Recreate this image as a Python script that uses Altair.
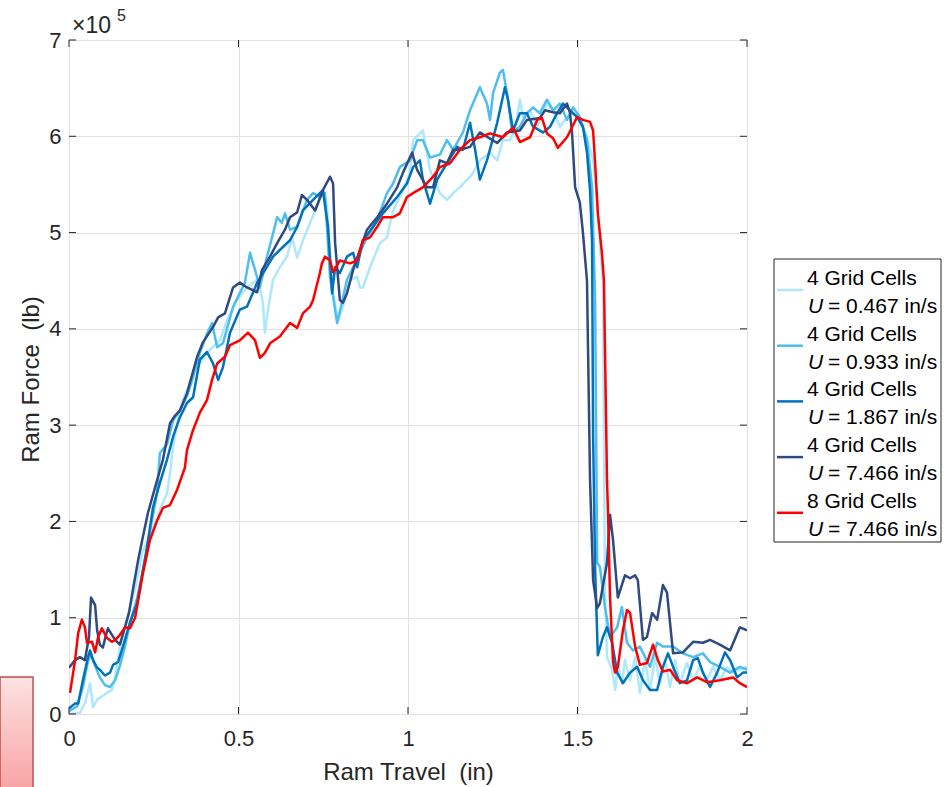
import altair as alt
import pandas as pd

# Ram force (in units of 10^5 lb) against ram travel (in) for five runs

travel_u0467 = [0.000, 0.032, 0.047, 0.062, 0.071, 0.083, 0.112, 0.127, 0.136, 0.150,
                0.171, 0.195, 0.218, 0.239, 0.268, 0.289, 0.298, 0.307, 0.319, 0.336,
                0.357, 0.366, 0.407, 0.445, 0.466, 0.496, 0.525, 0.555, 0.563, 0.572,
                0.578, 0.587, 0.602, 0.622, 0.643, 0.658, 0.673, 0.690, 0.711, 0.732,
                0.749, 0.761, 0.779, 0.794, 0.808, 0.829, 0.850, 0.858, 0.867, 0.888,
                0.917, 0.938, 0.956, 0.985, 1.006, 1.015, 1.044, 1.065, 1.094, 1.115,
                1.133, 1.153, 1.183, 1.192, 1.212, 1.242, 1.263, 1.280, 1.301, 1.310,
                1.322, 1.330, 1.339, 1.360, 1.381, 1.410, 1.428, 1.448, 1.469, 1.487,
                1.507, 1.528, 1.546, 1.558, 1.566, 1.575, 1.581, 1.587, 1.602, 1.611,
                1.619, 1.631, 1.640, 1.655, 1.670, 1.684, 1.699, 1.714, 1.729, 1.743,
                1.758, 1.773, 1.788, 1.802, 1.823, 1.841, 1.861, 1.882, 1.900, 1.920,
                1.941, 1.959, 1.979, 2.000]
force_u0467 = [0.00, 0.01, 0.11, 0.32, 0.07, 0.15, 0.22, 0.25, 0.38, 0.70,
               1.00, 1.30, 1.70, 1.84, 2.12, 2.29, 2.50, 2.77, 3.02, 3.26,
               3.44, 3.54, 3.75, 3.88, 4.09, 4.30, 4.43, 4.51, 4.43, 4.27,
               3.96, 4.20, 4.51, 4.64, 4.75, 4.95, 4.74, 4.92, 5.10, 5.27,
               5.44, 5.27, 4.37, 4.09, 4.23, 4.51, 4.54, 4.43, 4.43, 4.64,
               4.89, 4.95, 5.23, 5.44, 5.62, 5.96, 6.06, 5.65, 5.41, 5.34,
               5.41, 5.47, 5.58, 5.62, 5.75, 5.83, 5.75, 5.96, 5.96, 6.03,
               6.20, 6.38, 6.20, 6.27, 6.10, 6.34, 6.27, 6.10, 6.20, 6.24,
               6.14, 5.99, 5.75, 5.34, 4.85, 4.50, 1.30, 0.59, 0.46, 0.25,
               0.53, 0.32, 0.56, 0.35, 0.59, 0.22, 0.56, 0.25, 0.59, 0.32,
               0.56, 0.28, 0.56, 0.32, 0.53, 0.35, 0.49, 0.35, 0.49, 0.35,
               0.49, 0.43, 0.46, 0.49]

travel_u0933 = [0.000, 0.024, 0.041, 0.056, 0.065, 0.077, 0.091, 0.106, 0.121, 0.136,
                0.150, 0.165, 0.180, 0.201, 0.230, 0.239, 0.260, 0.268, 0.289, 0.307,
                0.327, 0.348, 0.366, 0.386, 0.407, 0.422, 0.437, 0.454, 0.484, 0.519,
                0.534, 0.549, 0.563, 0.584, 0.599, 0.614, 0.628, 0.637, 0.652, 0.673,
                0.702, 0.720, 0.740, 0.755, 0.761, 0.770, 0.791, 0.805, 0.820, 0.838,
                0.879, 0.909, 0.938, 0.956, 0.976, 1.006, 1.027, 1.044, 1.065, 1.094,
                1.115, 1.133, 1.162, 1.183, 1.212, 1.233, 1.242, 1.251, 1.271, 1.280,
                1.292, 1.307, 1.330, 1.351, 1.369, 1.389, 1.410, 1.428, 1.448, 1.469,
                1.487, 1.507, 1.528, 1.543, 1.552, 1.558, 1.566, 1.581, 1.596, 1.617,
                1.631, 1.646, 1.664, 1.684, 1.714, 1.735, 1.752, 1.782, 1.811, 1.841,
                1.870, 1.891, 1.920, 1.950, 1.979, 2.000]
force_u0933 = [0.03, 0.08, 0.28, 0.55, 0.62, 0.50, 0.38, 0.30, 0.28, 0.35,
               0.50, 0.70, 0.95, 1.20, 1.70, 1.90, 2.30, 2.71, 2.80, 3.05,
               3.15, 3.30, 3.50, 3.75, 3.95, 4.06, 3.81, 3.85, 4.23, 4.48,
               4.79, 4.61, 4.43, 4.75, 4.95, 5.16, 5.10, 5.20, 5.03, 5.06,
               5.34, 5.41, 5.37, 5.41, 5.06, 4.54, 4.06, 4.27, 4.51, 4.64,
               4.95, 5.13, 5.41, 5.51, 5.68, 5.75, 5.96, 5.96, 5.78, 5.81,
               5.96, 5.86, 6.04, 6.27, 6.51, 6.34, 6.17, 6.45, 6.66, 6.69,
               6.45, 6.04, 6.10, 6.24, 6.30, 6.24, 6.38, 6.27, 6.34, 6.17,
               6.30, 6.20, 5.96, 5.47, 4.30, 1.57, 1.53, 1.11, 0.80, 0.90,
               1.11, 0.74, 0.66, 0.70, 0.49, 0.74, 0.70, 0.70, 0.63, 0.59,
               0.63, 0.54, 0.49, 0.43, 0.49, 0.46]

travel_u1867 = [0.000, 0.018, 0.027, 0.041, 0.056, 0.062, 0.071, 0.083, 0.091, 0.106,
                0.121, 0.130, 0.145, 0.159, 0.180, 0.201, 0.230, 0.248, 0.268, 0.289,
                0.307, 0.327, 0.348, 0.366, 0.386, 0.407, 0.425, 0.440, 0.454, 0.475,
                0.504, 0.525, 0.555, 0.578, 0.602, 0.631, 0.652, 0.673, 0.690, 0.720,
                0.749, 0.764, 0.776, 0.785, 0.799, 0.820, 0.838, 0.850, 0.867, 0.897,
                0.926, 0.968, 0.997, 1.015, 1.035, 1.044, 1.065, 1.086, 1.115, 1.145,
                1.162, 1.183, 1.198, 1.212, 1.233, 1.263, 1.286, 1.295, 1.310, 1.330,
                1.351, 1.369, 1.398, 1.419, 1.440, 1.457, 1.478, 1.499, 1.516, 1.528,
                1.537, 1.543, 1.546, 1.552, 1.560, 1.575, 1.587, 1.602, 1.617, 1.634,
                1.655, 1.676, 1.693, 1.714, 1.735, 1.752, 1.767, 1.782, 1.802, 1.823,
                1.841, 1.855, 1.870, 1.891, 1.912, 1.935, 1.950, 1.971, 1.988, 2.000]
force_u1867 = [0.06, 0.11, 0.11, 0.35, 0.59, 0.66, 0.56, 0.48, 0.46, 0.40,
               0.43, 0.51, 0.54, 0.70, 0.95, 1.15, 1.73, 2.15, 2.40, 2.64,
               2.88, 3.08, 3.23, 3.29, 3.68, 3.76, 3.64, 3.47, 3.60, 3.96,
               4.20, 4.23, 4.48, 4.61, 4.75, 4.85, 4.92, 5.06, 5.23, 5.34,
               5.44, 5.06, 4.37, 4.64, 4.58, 4.75, 4.79, 4.64, 4.92, 5.06,
               5.20, 5.37, 5.51, 5.68, 5.75, 5.55, 5.30, 5.55, 5.72, 5.89,
               5.86, 6.14, 5.86, 5.55, 5.75, 6.14, 6.51, 6.38, 6.06, 6.24,
               6.24, 6.10, 6.04, 6.10, 6.24, 6.34, 6.27, 6.20, 6.10, 5.83,
               5.44, 4.90, 2.90, 1.50, 0.61, 0.80, 0.90, 0.74, 0.43, 0.32,
               0.43, 0.49, 0.35, 0.25, 0.25, 0.49, 0.63, 0.49, 0.32, 0.35,
               0.56, 0.58, 0.43, 0.28, 0.43, 0.64, 0.56, 0.38, 0.43, 0.43]

travel_u7466 = [0.000, 0.018, 0.032, 0.047, 0.059, 0.065, 0.077, 0.083, 0.091, 0.100,
                0.109, 0.115, 0.127, 0.136, 0.150, 0.165, 0.177, 0.189, 0.204, 0.218,
                0.233, 0.260, 0.277, 0.298, 0.313, 0.327, 0.348, 0.378, 0.395, 0.425,
                0.440, 0.460, 0.484, 0.504, 0.525, 0.555, 0.569, 0.593, 0.614, 0.637,
                0.652, 0.673, 0.687, 0.702, 0.726, 0.749, 0.770, 0.779, 0.785, 0.799,
                0.808, 0.820, 0.838, 0.858, 0.879, 0.909, 0.938, 0.968, 0.985, 1.012,
                1.027, 1.056, 1.074, 1.094, 1.115, 1.133, 1.153, 1.183, 1.212, 1.263,
                1.292, 1.330, 1.351, 1.389, 1.404, 1.428, 1.448, 1.469, 1.478, 1.484,
                1.493, 1.507, 1.516, 1.528, 1.537, 1.546, 1.558, 1.566, 1.587, 1.596,
                1.605, 1.619, 1.640, 1.655, 1.670, 1.678, 1.693, 1.705, 1.720, 1.735,
                1.752, 1.764, 1.782, 1.811, 1.841, 1.870, 1.891, 1.920, 1.950, 1.979,
                2.000]
force_u7466 = [0.48, 0.56, 0.59, 0.56, 0.80, 1.21, 1.13, 0.87, 0.72, 0.69,
               0.82, 0.89, 0.82, 0.77, 0.72, 0.90, 1.05, 1.30, 1.60, 1.84,
               2.09, 2.43, 2.64, 3.02, 3.10, 3.15, 3.33, 3.71, 3.86, 4.02,
               4.12, 4.16, 4.43, 4.48, 4.43, 4.38, 4.61, 4.75, 4.89, 5.03,
               5.16, 5.21, 5.39, 5.34, 5.23, 5.44, 5.58, 5.51, 4.89, 4.30,
               4.27, 4.37, 4.61, 4.82, 5.03, 5.16, 5.30, 5.47, 5.62, 5.83,
               5.65, 5.47, 5.47, 5.75, 5.72, 5.86, 5.86, 5.89, 6.04, 5.93,
               6.04, 6.06, 6.17, 6.19, 6.27, 6.25, 6.24, 6.34, 6.24, 6.03,
               5.47, 5.31, 5.00, 4.50, 2.43, 1.39, 1.10, 1.15, 1.57, 2.07,
               1.80, 1.21, 1.44, 1.41, 1.44, 1.39, 0.77, 0.80, 1.05, 0.98,
               1.34, 1.26, 0.63, 0.64, 0.75, 0.74, 0.77, 0.72, 0.66, 0.90,
               0.87]

travel_8cells = [0.003, 0.018, 0.027, 0.038, 0.047, 0.053, 0.068, 0.077, 0.086, 0.097,
                 0.112, 0.127, 0.136, 0.150, 0.165, 0.180, 0.195, 0.218, 0.239, 0.260,
                 0.277, 0.298, 0.319, 0.342, 0.348, 0.366, 0.386, 0.407, 0.422, 0.437,
                 0.460, 0.475, 0.504, 0.528, 0.549, 0.563, 0.578, 0.593, 0.622, 0.652,
                 0.673, 0.690, 0.711, 0.720, 0.740, 0.746, 0.755, 0.770, 0.779, 0.799,
                 0.829, 0.850, 0.867, 0.888, 0.909, 0.926, 0.956, 0.976, 0.997, 1.015,
                 1.044, 1.074, 1.094, 1.124, 1.153, 1.183, 1.212, 1.242, 1.280, 1.310,
                 1.330, 1.360, 1.381, 1.395, 1.410, 1.428, 1.442, 1.469, 1.499, 1.516,
                 1.537, 1.546, 1.552, 1.560, 1.572, 1.578, 1.587, 1.590, 1.596, 1.605,
                 1.611, 1.619, 1.634, 1.646, 1.655, 1.670, 1.684, 1.705, 1.723, 1.737,
                 1.752, 1.773, 1.794, 1.823, 1.853, 1.882, 1.920, 1.959, 1.979, 2.000]
force_8cells = [0.22, 0.56, 0.84, 0.98, 0.90, 0.74, 0.75, 0.64, 0.80, 0.89,
                0.79, 0.75, 0.77, 0.82, 0.90, 0.89, 1.00, 1.46, 1.81, 2.01,
                2.14, 2.17, 2.33, 2.56, 2.74, 2.95, 3.13, 3.26, 3.47, 3.64,
                3.71, 3.83, 3.88, 3.96, 3.88, 3.70, 3.75, 3.85, 3.92, 4.06,
                4.01, 4.16, 4.23, 4.30, 4.58, 4.68, 4.75, 4.71, 4.59, 4.71,
                4.68, 4.71, 4.92, 4.95, 5.06, 5.16, 5.16, 5.20, 5.37, 5.41,
                5.47, 5.58, 5.68, 5.72, 5.86, 5.96, 5.99, 6.03, 5.99, 6.09,
                5.94, 5.99, 6.17, 6.19, 6.03, 5.98, 5.88, 5.99, 6.20, 6.17,
                6.15, 6.06, 5.72, 5.20, 4.79, 4.50, 2.43, 2.09, 1.21, 0.53,
                0.43, 0.49, 0.87, 1.08, 1.05, 0.70, 0.51, 0.53, 0.72, 0.56,
                0.44, 0.46, 0.35, 0.32, 0.38, 0.33, 0.35, 0.38, 0.32, 0.28]

series_cells = ["4 Grid Cells", "4 Grid Cells", "4 Grid Cells", "4 Grid Cells", "8 Grid Cells"]
series_speeds = ["= 0.467 in/s", "= 0.933 in/s", "= 1.867 in/s", "= 7.466 in/s", "= 7.466 in/s"]
series_colors = ["#aee8fc", "#4dbeee", "#0072bd", "#2f4a80", "#ff0000"]

x_tick_values = [0, 0.5, 1, 1.5, 2]
y_tick_values = [0, 1, 2, 3, 4, 5, 6, 7]

curves = [(travel_u0467, force_u0467), (travel_u0933, force_u0933),
          (travel_u1867, force_u1867), (travel_u7466, force_u7466),
          (travel_8cells, force_8cells)]

frames = []
for k, (xs, ys) in enumerate(curves):
    frames.append(pd.DataFrame({"travel": xs, "force": ys, "series": k,
                                "step": list(range(len(xs)))}))
runs = pd.concat(frames, ignore_index=True)

legend_df = pd.DataFrame({"k": list(range(5)), "cells": series_cells,
                          "speed": series_speeds, "color": series_colors})
xt_df = pd.DataFrame({"v": x_tick_values})
yt_df = pd.DataFrame({"v": y_tick_values})
one = pd.DataFrame({"a": [0]})

W, H = 678, 674
FONT = "Liberation Sans"
INK = "#262626"
NBSP = "\u00a0"

x_enc = alt.X("travel:Q",
              scale=alt.Scale(domain=[0, 2], nice=False, zero=False),
              axis=alt.Axis(values=x_tick_values, format="~g",
                            title="Ram Travel" + NBSP + NBSP + "(in)",
                            labelPadding=14, labelFlush=False, titleX=339, titleY=65,
                            titleAlign="center", titleBaseline="alphabetic"))
y_enc = alt.Y("force:Q",
              scale=alt.Scale(domain=[0, 7], nice=False, zero=False),
              axis=alt.Axis(values=y_tick_values, format="d",
                            title="Ram Force" + NBSP + NBSP + "(lb)",
                            labelPadding=8, labelFlush=False, titleAngle=270,
                            titleX=-31, titleY=339,
                            titleAlign="center", titleBaseline="alphabetic"))

layers = []
for k in range(5):
    layers.append(
        alt.Chart(runs).transform_filter(alt.datum.series == k)
        .mark_line(color=series_colors[k], strokeWidth=2.5, strokeJoin="round", clip=True)
        .encode(x=x_enc, y=y_enc, order="step:Q")
    )

# inward tick marks on all four sides of the box
tick_len = 7
ticks_bottom = alt.Chart(xt_df).mark_rule(color=INK, strokeWidth=1).encode(
    x="v:Q", y=alt.value(H), y2=alt.value(H - tick_len))
ticks_top = alt.Chart(xt_df).mark_rule(color=INK, strokeWidth=1).encode(
    x="v:Q", y=alt.value(0), y2=alt.value(tick_len))
ticks_left = alt.Chart(yt_df).mark_rule(color=INK, strokeWidth=1).encode(
    y="v:Q", x=alt.value(0), x2=alt.value(tick_len))
ticks_right = alt.Chart(yt_df).mark_rule(color=INK, strokeWidth=1).encode(
    y="v:Q", x=alt.value(W), x2=alt.value(W - tick_len))

# exponent label above the y axis
exp_base = alt.Chart(one).mark_text(text="×10", font=FONT, fontSize=23, color=INK,
                                    align="left", baseline="alphabetic").encode(
    x=alt.value(3), y=alt.value(-7))
exp_power = alt.Chart(one).mark_text(text="5", font=FONT, fontSize=16, color=INK,
                                     align="left", baseline="alphabetic").encode(
    x=alt.value(48), y=alt.value(-19))

# legend box with two-line entries
leg_box = alt.Chart(one).mark_rect(fill="white", stroke=INK, strokeWidth=1).encode(
    x=alt.value(705), x2=alt.value(872), y=alt.value(219), y2=alt.value(502))
leg_base = alt.Chart(legend_df).transform_calculate(
    y_swatch="250 + 55.7 * datum.k",
    y_line1="239 + 55.7 * datum.k",
    y_line2="267 + 55.7 * datum.k",
)
leg_swatch = leg_base.mark_rule(strokeWidth=2.5).encode(
    x=alt.value(708), x2=alt.value(734),
    y=alt.Y("y_swatch:Q", scale=None),
    color=alt.Color("color:N", scale=None))
leg_cells = leg_base.mark_text(font=FONT, fontSize=21, color="black", align="left",
                               baseline="middle").encode(
    x=alt.value(738), y=alt.Y("y_line1:Q", scale=None), text="cells:N")
leg_u = leg_base.mark_text(font=FONT, fontSize=21, fontStyle="italic", color="black",
                           align="left", baseline="middle").encode(
    x=alt.value(739), y=alt.Y("y_line2:Q", scale=None), text=alt.value("U"))
leg_speed = leg_base.mark_text(font=FONT, fontSize=21, color="black", align="left",
                               baseline="middle").encode(
    x=alt.value(759), y=alt.Y("y_line2:Q", scale=None), text="speed:N")

# shaded tab at the lower left corner
tab = alt.Chart(one).mark_rect(
    fill=alt.Gradient(gradient="linear",
                      stops=[alt.GradientStop(color="#fde2e2", offset=0),
                             alt.GradientStop(color="#f8a2a2", offset=1)],
                      x1=0, x2=0, y1=0, y2=1),
    stroke="#c0504d", strokeWidth=1.5).encode(
    x=alt.value(-69), x2=alt.value(-36), y=alt.value(637), y2=alt.value(752))

chart = alt.layer(
    *layers, ticks_bottom, ticks_top, ticks_left, ticks_right,
    exp_base, exp_power, leg_box, leg_swatch, leg_cells, leg_u, leg_speed, tab
).properties(
    width=W, height=H, autosize="none",
    padding={"left": 69, "top": 40, "right": 198, "bottom": 73},
    background="white",
).configure_view(
    stroke=INK, strokeWidth=1
).configure_axis(
    grid=True, gridColor="#e2e2e2", gridWidth=1, domain=False, ticks=False, tickSize=0,
    labelFont=FONT, labelFontSize=22, labelColor=INK,
    titleFont=FONT, titleFontSize=24, titleFontWeight="normal", titleColor=INK,
)

chart.save("out.html", embed_options={"renderer": "svg", "actions": False})
